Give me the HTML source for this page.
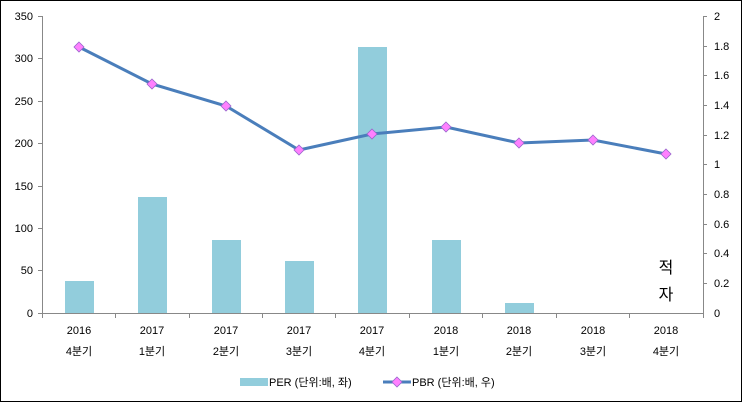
<!DOCTYPE html><html><head><style>body{margin:0;background:#fff}svg{display:block}text{font-family:"Liberation Sans","Noto Sans CJK KR",sans-serif;font-size:11px;fill:#000}</style></head><body>
<svg width="743" height="403" viewBox="0 0 743 403">
<rect x="0.5" y="0.5" width="741" height="401" fill="#fff" stroke="#000"/>
<g stroke="#888" stroke-width="1">
<line x1="42.5" y1="16" x2="42.5" y2="313"/><line x1="703.5" y1="16" x2="703.5" y2="313"/>
<line x1="42" y1="313.5" x2="704" y2="313.5"/>
</g>
<g stroke="#888">
<line x1="38" x2="42" y1="16.5" y2="16.5"/><line x1="38" x2="42" y1="58.5" y2="58.5"/><line x1="38" x2="42" y1="101.5" y2="101.5"/><line x1="38" x2="42" y1="143.5" y2="143.5"/><line x1="38" x2="42" y1="186.5" y2="186.5"/><line x1="38" x2="42" y1="228.5" y2="228.5"/><line x1="38" x2="42" y1="270.5" y2="270.5"/><line x1="38" x2="42" y1="313.5" y2="313.5"/>
<line x1="703" x2="707" y1="16.5" y2="16.5"/><line x1="703" x2="707" y1="46.5" y2="46.5"/><line x1="703" x2="707" y1="75.5" y2="75.5"/><line x1="703" x2="707" y1="105.5" y2="105.5"/><line x1="703" x2="707" y1="135.5" y2="135.5"/><line x1="703" x2="707" y1="164.5" y2="164.5"/><line x1="703" x2="707" y1="194.5" y2="194.5"/><line x1="703" x2="707" y1="224.5" y2="224.5"/><line x1="703" x2="707" y1="253.5" y2="253.5"/><line x1="703" x2="707" y1="283.5" y2="283.5"/>
<line x1="115.5" x2="115.5" y1="313" y2="318"/><line x1="189.5" x2="189.5" y1="313" y2="318"/><line x1="262.5" x2="262.5" y1="313" y2="318"/><line x1="335.5" x2="335.5" y1="313" y2="318"/><line x1="409.5" x2="409.5" y1="313" y2="318"/><line x1="482.5" x2="482.5" y1="313" y2="318"/><line x1="556.5" x2="556.5" y1="313" y2="318"/><line x1="629.5" x2="629.5" y1="313" y2="318"/><line x1="703.5" x2="703.5" y1="313" y2="318"/><line x1="42.5" x2="42.5" y1="313" y2="318"/>
</g>
<g text-anchor="end">
<text x="33" y="20">350</text><text x="33" y="62">300</text><text x="33" y="105">250</text><text x="33" y="147">200</text><text x="33" y="190">150</text><text x="33" y="232">100</text><text x="33" y="274">50</text><text x="33" y="317">0</text>
</g>
<g text-anchor="start">
<text x="714" y="20">2</text><text x="714" y="50">1.8</text><text x="714" y="79">1.6</text><text x="714" y="109">1.4</text><text x="714" y="139">1.2</text><text x="714" y="168">1</text><text x="714" y="198">0.8</text><text x="714" y="228">0.6</text><text x="714" y="257">0.4</text><text x="714" y="287">0.2</text><text x="714" y="317">0</text>
</g>
<g fill="#92cddc">
<rect x="65" y="281" width="29" height="32"/><rect x="138" y="197" width="29" height="116"/><rect x="212" y="240" width="29" height="73"/><rect x="285" y="261" width="29" height="52"/><rect x="358" y="47" width="29" height="266"/><rect x="432" y="240" width="29" height="73"/><rect x="505" y="303" width="29" height="10"/>
</g>
<polyline fill="none" stroke="#4a7ebb" stroke-width="3" points="79,47 152,84 226,106 299,150 372,134 446,127 519,143 593,140 666,154"/>
<g fill="#ff80ff" stroke="#9966cc" stroke-width="0.8">
<path d="M79 42l5 5-5 5-5-5z"/><path d="M152 79l5 5-5 5-5-5z"/><path d="M226 101l5 5-5 5-5-5z"/><path d="M299 145l5 5-5 5-5-5z"/><path d="M372 129l5 5-5 5-5-5z"/><path d="M446 122l5 5-5 5-5-5z"/><path d="M519 138l5 5-5 5-5-5z"/><path d="M593 135l5 5-5 5-5-5z"/><path d="M666 149l5 5-5 5-5-5z"/>
</g>
<g text-anchor="middle" font-size="12">
<text x="79" y="334">2016</text><text x="79" y="355">4분기</text>
<text x="152" y="334">2017</text><text x="152" y="355">1분기</text>
<text x="226" y="334">2017</text><text x="226" y="355">2분기</text>
<text x="299" y="334">2017</text><text x="299" y="355">3분기</text>
<text x="372" y="334">2017</text><text x="372" y="355">4분기</text>
<text x="446" y="334">2018</text><text x="446" y="355">1분기</text>
<text x="519" y="334">2018</text><text x="519" y="355">2분기</text>
<text x="593" y="334">2018</text><text x="593" y="355">3분기</text>
<text x="666" y="334">2018</text><text x="666" y="355">4분기</text>
</g>
<text x="666" y="273" text-anchor="middle" style="font-size:16px">적</text>
<text x="666" y="300" text-anchor="middle" style="font-size:16px">자</text>
<rect x="240" y="378" width="28" height="8" fill="#92cddc"/>
<text x="269" y="386">PER (단위:배, 좌)</text>
<line x1="383" y1="382" x2="411" y2="382" stroke="#4a7ebb" stroke-width="3"/>
<path d="M397 377l5 5-5 5-5-5z" fill="#ff80ff" stroke="#9966cc" stroke-width="0.8"/>
<text x="412" y="386">PBR (단위:배, 우)</text>
</svg></body></html>
